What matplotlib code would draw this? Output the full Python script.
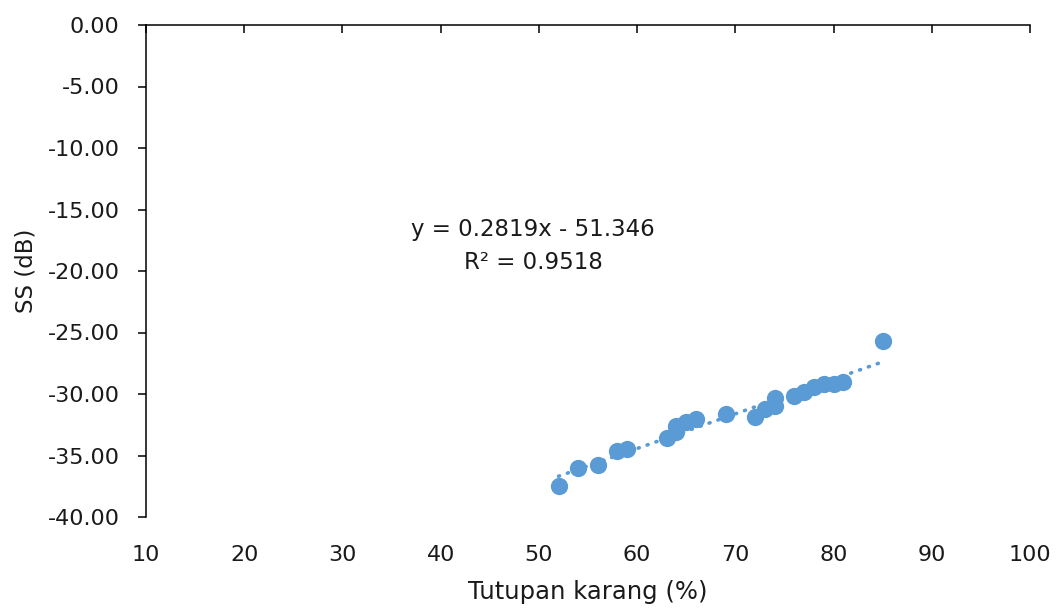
import matplotlib
matplotlib.use("Agg")
import matplotlib.pyplot as plt
import numpy as np

plt.rcParams['font.family'] = ['DejaVu Sans']

coral_cover = [52, 54, 56, 58, 59, 63, 64, 64, 65, 66, 69, 72, 73, 74, 74, 76, 77, 78, 79, 80, 81, 85]
ss_db = [-37.5, -36.0, -35.8, -34.6, -34.5, -33.6, -33.1, -32.6, -32.3, -32.0, -31.6, -31.9,
         -31.2, -31.0, -30.3, -30.2, -29.8, -29.4, -29.2, -29.2, -29.0, -25.7]
slope = 0.2819
intercept = -51.346
r2 = 0.9518
x_ticks = [10, 20, 30, 40, 50, 60, 70, 80, 90, 100]
y_ticks = [0, -5, -10, -15, -20, -25, -30, -35, -40]

color = '#5B9BD5'
txt = '#1a1a1a'
fs = 16

fig = plt.figure(figsize=(10.56, 6.08), dpi=100)
ax = fig.add_axes([146/1056, 1-517/608, (1030-146)/1056, (517-25)/608])

ax.scatter(coral_cover, ss_db, s=155, color=color, zorder=3, linewidths=0)

xs = np.array([min(coral_cover), max(coral_cover)])
ax.plot(xs, slope*xs + intercept, color=color, lw=2.6, linestyle=(0, (0.3, 2.3)),
        dash_capstyle='round', zorder=2)

ax.set_xlim(10, 100)
ax.set_ylim(-40, 0)
ax.set_xticks(x_ticks)
ax.set_yticks(y_ticks)
ax.set_yticklabels([f"{v:.2f}" for v in y_ticks])

for s in ['bottom', 'right']:
    ax.spines[s].set_visible(False)
for s in ['top', 'left']:
    ax.spines[s].set_linewidth(1.1)
    ax.spines[s].set_color('#000000')

ax.tick_params(axis='x', bottom=False, top=True, labelbottom=True, labeltop=False,
               direction='in', length=6, width=1.1, labelsize=fs, pad=20, colors='#000000')
ax.tick_params(axis='y', left=True, direction='out', length=6, width=1.1, labelsize=fs,
               pad=13, colors='#000000')
for lbl in ax.get_xticklabels() + ax.get_yticklabels():
    lbl.set_color(txt)

ax.set_xlabel('Tutupan karang (%)', fontsize=17.5, labelpad=11, color=txt)
ax.set_ylabel('SS (dB)', fontsize=16.5, labelpad=7, color=txt)

ax.text(49.4, -16.6, f"y = {slope}x - {abs(intercept)}", ha='center', va='center',
        fontsize=16.5, color=txt)
ax.text(49.4, -19.3, f"R² = {r2}", ha='center', va='center', fontsize=16.5, color=txt)

fig.savefig('out.png', dpi=100)
